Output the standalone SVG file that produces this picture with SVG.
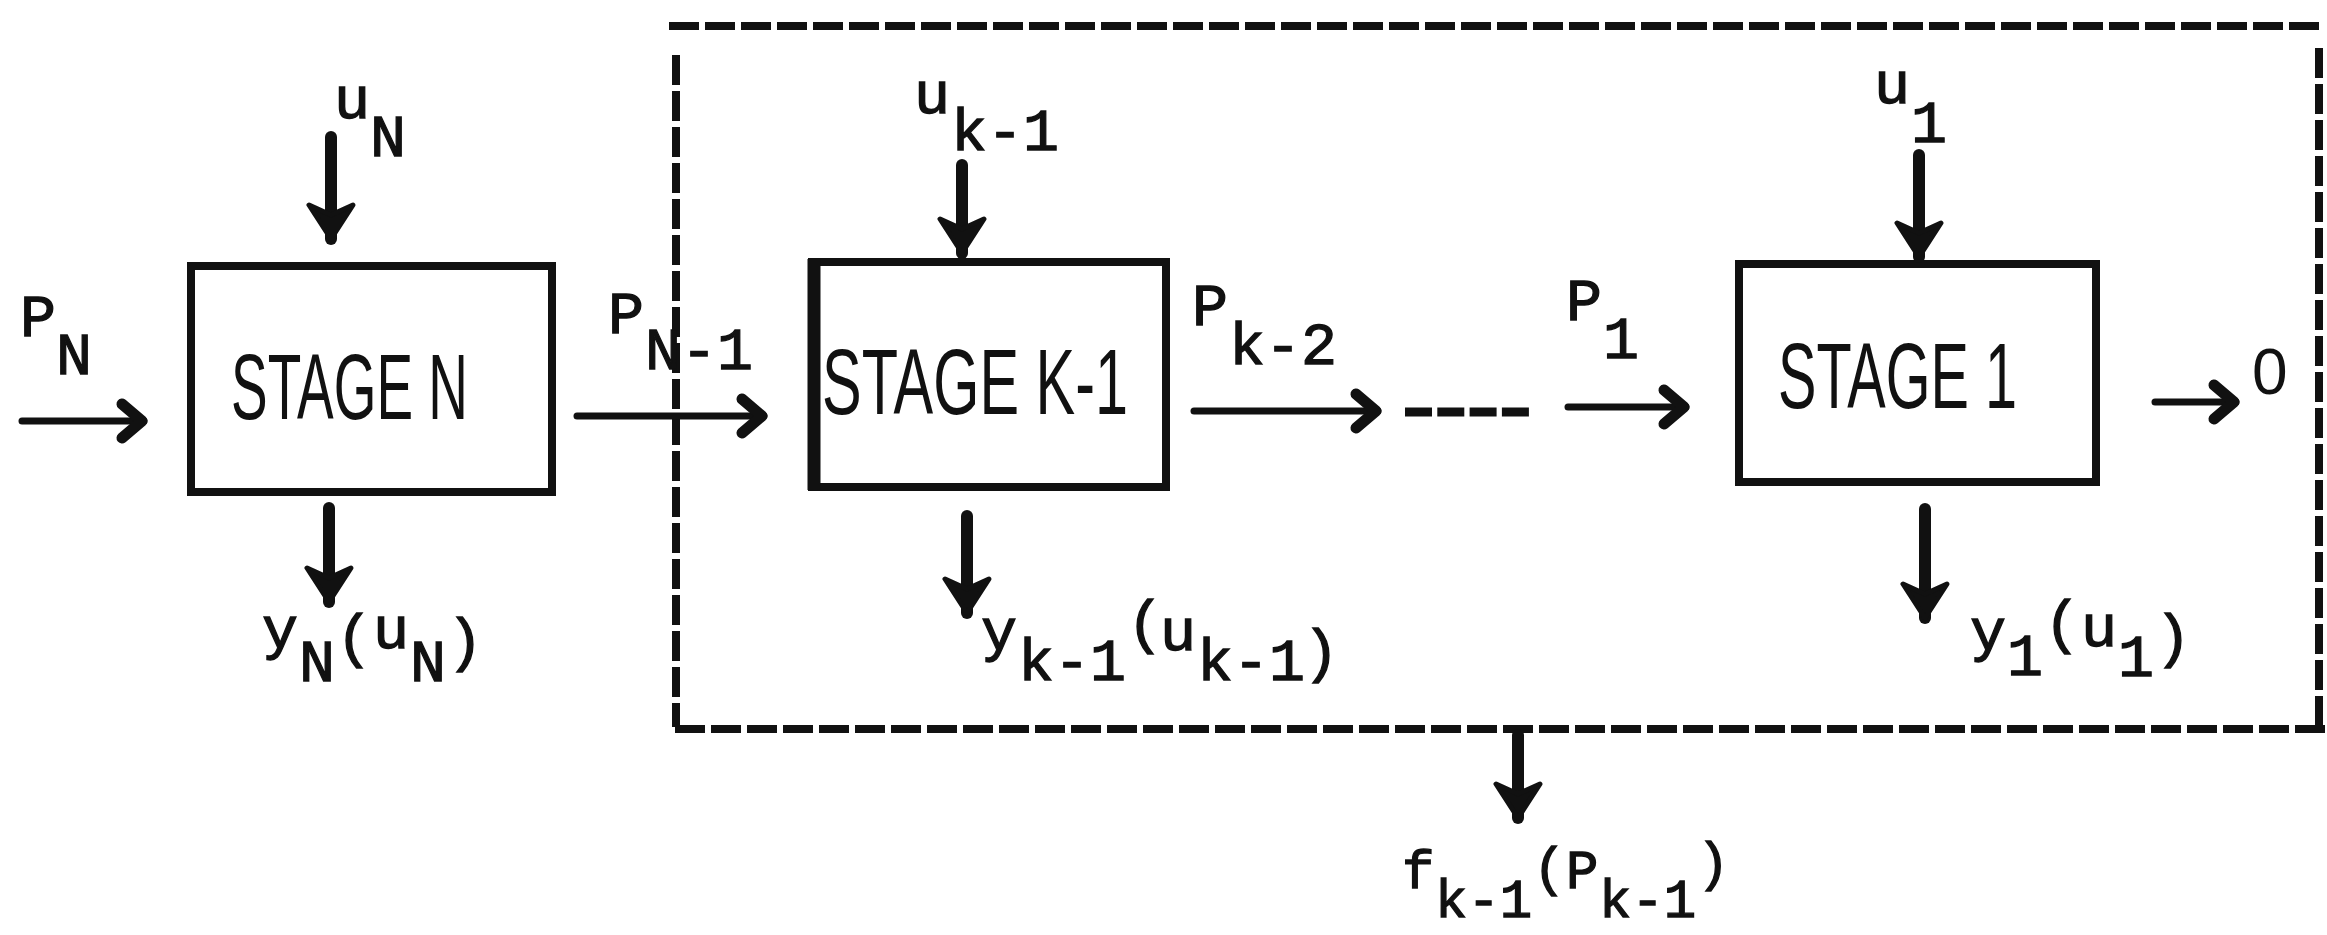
<svg xmlns="http://www.w3.org/2000/svg" width="2327" height="935" viewBox="0 0 2327 935">
<style>
.box{fill:none;stroke:#111;stroke-width:8;stroke-linejoin:miter}
.stage{font-family:"Liberation Sans",Arial,sans-serif;font-size:92px;fill:#111}
.tw{font-family:"Liberation Mono","Courier New",monospace;font-size:60px;fill:#111;stroke:#111;stroke-width:1.3}
.zero{font-family:"Liberation Sans",Arial,sans-serif;font-size:64px;fill:#111}
.thin{stroke:#111;stroke-width:7;fill:none;stroke-linecap:round;marker-end:url(#open)}
.thick{stroke:#111;stroke-width:12;fill:none;stroke-linecap:round;marker-end:url(#solid)}
.dash{stroke:#111;stroke-width:8;fill:none;stroke-dasharray:30 6}
</style>
<defs>
<marker id="open" markerUnits="userSpaceOnUse" markerWidth="44" markerHeight="50" refX="34" refY="25" orient="auto">
<path d="M12 8 L32 25 L12 42" fill="none" stroke="#111" stroke-width="11" stroke-linecap="round" stroke-linejoin="round"/>
</marker>
<marker id="solid" markerUnits="userSpaceOnUse" markerWidth="48" markerHeight="56" refX="40" refY="28" orient="auto">
<path d="M6 6 L40 28 L6 50 L16 28 Z" fill="#111" stroke="#111" stroke-width="5" stroke-linejoin="round"/>
</marker>
</defs>

<g id="frame">
<line class="dash" x1="669" y1="26" x2="2325" y2="26"/>
<line class="dash" x1="676" y1="55" x2="676" y2="727"/>
<line class="dash" x1="2319" y1="48" x2="2319" y2="727"/>
<line class="dash" x1="675" y1="729" x2="2325" y2="729"/>
</g>

<g id="stageN">
<rect class="box" x="191" y="266" width="361" height="226"/>
<text class="stage" x="231" y="419" textLength="237" lengthAdjust="spacingAndGlyphs">STAGE N</text>
</g>

<g id="stageK1">
<rect class="box" x="812" y="262" width="354" height="225"/>
<line x1="814" y1="259" x2="814" y2="490" stroke="#111" stroke-width="13"/>
<text class="stage" x="822" y="414" textLength="306" lengthAdjust="spacingAndGlyphs">STAGE K-1</text>
</g>

<g id="stage1">
<rect class="box" x="1739" y="264" width="357" height="218"/>
<text class="stage" x="1778" y="408" textLength="239" lengthAdjust="spacingAndGlyphs">STAGE 1</text>
</g>

<g id="connectors">
<line class="thick" x1="331" y1="137" x2="331" y2="239"/>
<line class="thick" x1="329" y1="508" x2="329" y2="602"/>
<line class="thick" x1="962" y1="165" x2="962" y2="253"/>
<line class="thick" x1="967" y1="516" x2="967" y2="613"/>
<line class="thick" x1="1919" y1="155" x2="1919" y2="257"/>
<line class="thick" x1="1925" y1="509" x2="1925" y2="618"/>
<line class="thick" x1="1518" y1="735" x2="1518" y2="818"/>
<line class="thin" x1="22" y1="421" x2="144" y2="421"/>
<line class="thin" x1="577" y1="416" x2="764" y2="416"/>
<line class="thin" x1="1194" y1="411" x2="1378" y2="411"/>
<line class="thin" x1="1568" y1="407" x2="1686" y2="407"/>
<line class="thin" x1="2155" y1="402" x2="2236" y2="402"/>
<line x1="1405" y1="412" x2="1529" y2="412" stroke="#111" stroke-width="9" stroke-dasharray="27 5.3"/>
</g>

<g id="labels">
<text class="tw"><tspan x="334" y="118">u</tspan><tspan x="370" y="156">N</tspan></text>
<text class="tw"><tspan x="20" y="336">P</tspan><tspan x="56" y="374">N</tspan></text>
<text class="tw"><tspan x="608" y="333">P</tspan><tspan x="645" y="369">N-1</tspan></text>
<text class="tw"><tspan x="914" y="113">u</tspan><tspan x="951" y="150">k-1</tspan></text>
<text class="tw"><tspan x="1192" y="325">P</tspan><tspan x="1229" y="364">k-2</tspan></text>
<text class="tw"><tspan x="1566" y="320">P</tspan><tspan x="1603" y="358">1</tspan></text>
<text class="tw"><tspan x="1874" y="103">u</tspan><tspan x="1911" y="142">1</tspan></text>
<text class="zero" x="2252" y="394">0</text>
<text class="tw"><tspan x="262" y="648">y</tspan><tspan x="299" y="681">N</tspan><tspan x="336" y="656">(</tspan><tspan x="373" y="648">u</tspan><tspan x="410" y="681">N</tspan><tspan x="447" y="660">)</tspan></text>
<text class="tw"><tspan x="981" y="650">y</tspan><tspan x="1018" y="680">k-1</tspan><tspan x="1127" y="642">(</tspan><tspan x="1160" y="650">u</tspan><tspan x="1197" y="680">k-1</tspan><tspan x="1303" y="671">)</tspan></text>
<text class="tw"><tspan x="1970" y="650">y</tspan><tspan x="2007" y="675">1</tspan><tspan x="2044" y="642">(</tspan><tspan x="2081" y="646">u</tspan><tspan x="2118" y="676">1</tspan><tspan x="2155" y="656">)</tspan></text>
<text class="tw" style="font-size:54px"><tspan x="1402" y="888">f</tspan><tspan x="1435" y="917">k-1</tspan><tspan x="1533" y="885">(</tspan><tspan x="1566" y="888">P</tspan><tspan x="1599" y="917">k-1</tspan><tspan x="1697" y="880">)</tspan></text>
</g>
</svg>
